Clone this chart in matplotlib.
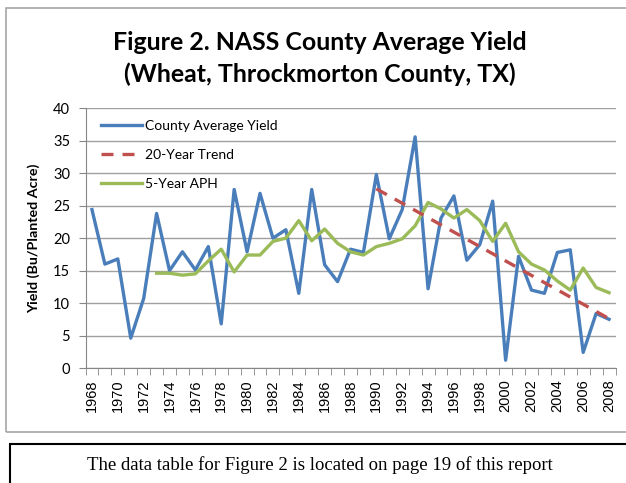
import matplotlib
matplotlib.use("Agg")
import matplotlib.pyplot as plt
from matplotlib.patches import Rectangle
import numpy as np

# NASS county average yield, Throckmorton County TX (wheat)
years = list(range(1968, 2009))
county_yield = [24.4, 16.0, 16.8, 4.6, 10.7, 23.8, 15.0, 17.9, 15.1, 18.7,
                6.8, 27.5, 17.9, 26.9, 20.0, 21.3, 11.5, 27.5, 15.9, 13.3,
                18.3, 17.8, 29.8, 19.9, 24.4, 35.6, 12.2, 23.1, 26.5, 16.6,
                19.0, 25.7, 1.2, 17.2, 12.0, 11.5, 17.8, 18.2, 2.4, 8.4, 7.5]

aph_years = list(range(1973, 2009))
aph = [14.6, 14.6, 14.3, 14.5, 16.5, 18.3, 14.8, 17.4, 17.4, 19.5,
       20.0, 22.7, 19.6, 21.4, 19.2, 17.9, 17.4, 18.7, 19.2, 19.9,
       21.9, 25.5, 24.5, 23.1, 24.4, 22.7, 19.5, 22.3, 17.9, 16.0,
       15.1, 13.4, 12.0, 15.4, 12.4, 11.6]

trend_years = [1990, 2008]
trend = [27.6, 7.6]

xlabels = [str(y) for y in range(1968, 2009, 2)]

W, H = 626, 483
fig = plt.figure(figsize=(W / 100, H / 100), dpi=100)

# chart area border and the text box underneath
fig.patches.append(Rectangle((6 / W, 1 - 432 / H), 1.0, (432 - 8) / H,
                             transform=fig.transFigure, fill=False,
                             edgecolor="#a6a6a6", lw=1.2))
fig.patches.append(Rectangle((10 / W, -0.2), 1.0, 0.2 + 1 - 444 / H,
                             transform=fig.transFigure, fill=False,
                             edgecolor="black", lw=1.5))

ax = fig.add_axes([85.5 / W, 1 - 368 / H, 530 / W, (368 - 108.3) / H])

blue = "#4a7ebb"
red = "#c0504d"
green = "#9bbb59"

ax.plot(years, county_yield, color=blue, lw=2.4, label="County Average Yield",
        solid_joinstyle="round", zorder=3)
ax.plot(trend_years, trend, color=red, lw=2.4, dashes=(3.6, 2.7),
        label="20-Year Trend", zorder=4)
ax.plot(aph_years, aph, color=green, lw=2.4, label="5-Year APH",
        solid_joinstyle="round", zorder=3)

ax.set_xlim(1967.5, 2008.5)
ax.set_ylim(0, 40)
ax.set_yticks(range(0, 41, 5))
ax.set_xticks(range(1968, 2009, 2))
ax.set_xticklabels(xlabels, rotation=90, family="Liberation Sans", fontsize=10.5)
ax.set_xticks(np.arange(1967.5, 2009, 1), minor=True)
ax.tick_params(axis="x", which="major", length=0, pad=8)
ax.tick_params(axis="x", which="minor", length=5, color="#868686", direction="out")
ax.tick_params(axis="y", length=5, color="#868686", pad=6)
for t in ax.get_yticklabels():
    t.set_family("Lato")
    t.set_fontsize(10.5)

ax.grid(axis="y", color="#a0a0a0", lw=1)
ax.set_axisbelow(True)
for s in ["top", "right"]:
    ax.spines[s].set_visible(False)
ax.spines["left"].set_color("#868686")
ax.spines["bottom"].set_color("#868686")

ax.set_ylabel("Yield (Bu/Planted Acre)", family="Lato", fontweight="bold",
              fontsize=10.3, labelpad=9)

leg = ax.legend(loc="upper left", frameon=False, prop={"family": "Lato", "size": 10},
                handlelength=3.0, handletextpad=0.2, labelspacing=1.25,
                bbox_to_anchor=(0.005, 1.005))

fig.text(320 / W, 1 - 42 / H, "Figure 2. NASS County Average Yield",
         ha="center", va="center", family="Lato", fontweight="bold", fontsize=17.9)
fig.text(320 / W, 1 - 74 / H, "(Wheat, Throckmorton County, TX)",
         ha="center", va="center", family="Lato", fontweight="bold", fontsize=17.9)

fig.text(320 / W, 1 - 465 / H,
         "The data table for Figure 2 is located on page 19 of this report",
         ha="center", va="center", family="Liberation Serif", fontsize=13.5)

fig.savefig("out.png", dpi=100)
